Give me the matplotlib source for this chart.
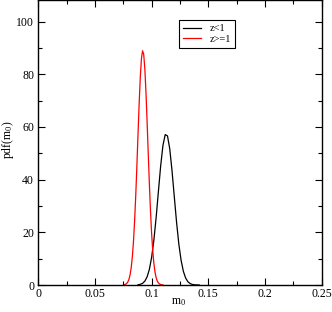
import matplotlib
matplotlib.use("Agg")
import matplotlib.pyplot as plt
from matplotlib.ticker import MultipleLocator

# red curve: z >= 1
m0_high = [0.076, 0.077, 0.078, 0.079, 0.080, 0.081, 0.082, 0.083, 0.084, 0.085,
           0.086, 0.087, 0.088, 0.089, 0.090, 0.091, 0.092, 0.093, 0.094, 0.095,
           0.096, 0.097, 0.098, 0.099, 0.100, 0.101, 0.102, 0.103, 0.104, 0.105,
           0.106, 0.107, 0.108, 0.110]
pdf_high = [0.13, 0.28, 0.59, 1.16, 2.18, 3.91, 6.66, 10.8, 16.7, 24.5,
            34.2, 45.4, 57.4, 69.0, 78.9, 85.9, 88.9, 87.6, 82.1, 73.2,
            62.1, 50.1, 38.5, 28.1, 19.5, 12.9, 8.13, 4.87, 2.77, 1.50,
            0.77, 0.38, 0.18, 0.03]

# black curve: z < 1
m0_low = [0.088, 0.090, 0.092, 0.094, 0.096, 0.098, 0.100, 0.102, 0.104, 0.106,
          0.108, 0.110, 0.112, 0.114, 0.116, 0.118, 0.120, 0.122, 0.124, 0.126,
          0.128, 0.130, 0.132, 0.134, 0.136, 0.138, 0.140, 0.142]
pdf_low = [0.10, 0.26, 0.64, 1.47, 3.07, 5.92, 10.5, 17.1, 25.7, 35.6,
           45.3, 53.0, 57.1, 56.6, 51.7, 43.4, 33.6, 23.9, 15.6, 9.42,
           5.23, 2.67, 1.25, 0.54, 0.21, 0.08, 0.03, 0.02]

x_ticks = [0, 0.05, 0.1, 0.15, 0.2, 0.25]
x_ticklabels = ['0', '0.05', '0.1', '0.15', '0.2', '0.25']
y_ticks = [0, 20, 40, 60, 80, 100]
y_ticklabels = ['0', '20', '40', '60', '80', '100']

plt.rcParams['font.family'] = ['Liberation Serif', 'DejaVu Serif']
plt.rcParams['mathtext.fontset'] = 'custom'
plt.rcParams['mathtext.rm'] = 'Liberation Serif'
plt.rcParams['mathtext.it'] = 'Liberation Serif'

fig = plt.figure(figsize=(3.32, 3.12), dpi=100)
ax = fig.add_axes([0.1155, 0.0865, 0.853, 0.912])

ax.plot(m0_low, pdf_low, color='black', lw=0.9, label='z<1')
ax.plot(m0_high, pdf_high, color='red', lw=0.9, label='z>=1')

ax.set_xlim(0, 0.25)
ax.set_ylim(0, 108)
ax.set_xticks(x_ticks)
ax.set_xticklabels(x_ticklabels)
ax.set_yticks(y_ticks)
ax.set_yticklabels(y_ticklabels)
ax.xaxis.set_minor_locator(MultipleLocator(0.025))
ax.yaxis.set_minor_locator(MultipleLocator(10))
ax.tick_params(which='both', direction='in', top=True, right=True,
               labelsize=8.5, width=0.8)
ax.tick_params(which='major', length=5)
ax.tick_params(which='minor', length=3)
ax.tick_params(axis='x', pad=2)
ax.tick_params(axis='y', pad=3)
for s in ax.spines.values():
    s.set_linewidth(1.0)

ax.set_xlabel('m$_0$', fontsize=8.5, va='center')
ax.xaxis.set_label_coords(0.495, -0.06)
ax.set_ylabel('pdf(m$_0$)', fontsize=8.5, va='center')
ax.yaxis.set_label_coords(-0.106, 0.51)

leg = ax.legend(loc='upper left', bbox_to_anchor=(0.497, 0.932), fontsize=7.5,
                frameon=True, fancybox=False, edgecolor='black', framealpha=1,
                handlelength=1.7, handletextpad=0.8, borderpad=0.4,
                labelspacing=0.15, borderaxespad=0)
leg.get_frame().set_linewidth(0.8)

fig.savefig('out.png', dpi=100)
